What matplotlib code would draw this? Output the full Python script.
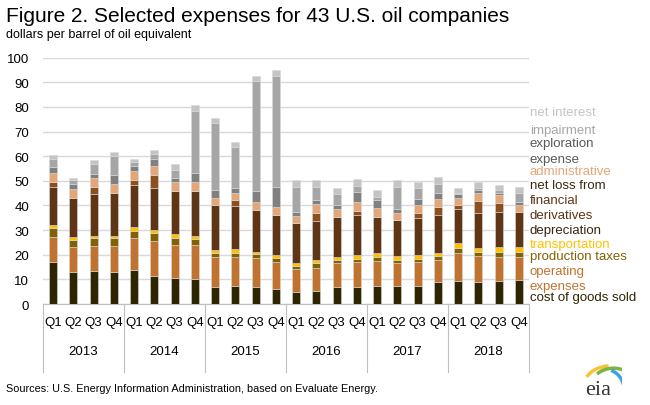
import numpy as np
import matplotlib.pyplot as plt
from matplotlib.patches import Arc

plt.rcParams['font.family'] = ['Liberation Sans', 'DejaVu Sans']

years = ['2013', '2014', '2015', '2016', '2017', '2018']
quarters = ['Q1', 'Q2', 'Q3', 'Q4']

# values in dollars per barrel of oil equivalent, one per quarter 2013Q1..2018Q4
cost_of_goods = [16.9, 12.8, 13.2, 12.8, 13.8, 11.2, 10.5, 10.1, 6.7, 7.2, 6.7, 6.1,
                 5.0, 5.4, 6.7, 6.7, 7.2, 7.2, 7.4, 8.8, 9.4, 9.0, 9.4, 9.9]
operating = [10.4, 10.4, 10.4, 10.8, 12.9, 14.2, 13.5, 13.9, 12.5, 12.0, 11.9, 10.8,
             9.2, 9.4, 9.9, 10.2, 10.1, 9.3, 9.5, 9.0, 11.1, 10.6, 9.8, 9.3]
production_taxes = [3.7, 2.7, 3.1, 3.1, 3.0, 3.6, 2.7, 2.3, 1.7, 1.7, 1.6, 1.7,
                    1.3, 1.8, 1.2, 1.3, 1.9, 1.3, 1.3, 1.8, 2.2, 1.7, 2.0, 2.0]
transportation = [1.0, 1.4, 1.0, 1.0, 1.7, 1.0, 1.6, 1.4, 1.1, 1.4, 1.0, 1.2,
                  1.1, 1.2, 1.1, 1.6, 1.4, 1.8, 1.6, 1.3, 1.9, 1.6, 2.0, 2.0]
depreciation = [15.6, 15.9, 16.8, 17.2, 16.8, 17.2, 17.6, 18.2, 18.1, 17.5, 16.9, 16.5,
                16.1, 15.7, 16.5, 16.2, 14.8, 14.4, 15.0, 15.1, 14.1, 13.9, 14.2, 14.3]
derivatives = [1.9, 0.0, 3.1, 0.0, 2.1, 5.0, 0.0, 0.0, 0.0, 2.4, 0.0, 0.0,
               0.0, 3.6, 0.0, 1.8, 0.0, 0.0, 2.3, 3.4, 1.4, 5.0, 3.5, 0.0]
administrative = [3.8, 3.4, 3.7, 3.7, 3.7, 3.7, 3.6, 3.8, 3.1, 3.0, 3.1, 3.2,
                  3.1, 3.4, 3.1, 3.6, 3.5, 3.1, 3.0, 3.1, 3.1, 3.1, 3.2, 2.7]
exploration = [2.3, 2.3, 1.3, 3.6, 2.0, 2.8, 1.8, 3.3, 3.1, 2.0, 4.7, 8.1,
               1.7, 1.7, 1.7, 4.1, 3.3, 1.4, 2.4, 2.4, 1.3, 1.4, 1.1, 1.2]
impairment = [3.1, 1.3, 4.1, 7.9, 1.6, 2.0, 3.1, 25.5, 27.0, 16.5, 44.5, 45.1,
              10.1, 5.4, 4.3, 2.4, 1.4, 9.0, 4.5, 4.0, 0.7, 0.9, 1.2, 3.8]
net_interest = [1.6, 0.8, 1.7, 1.6, 1.1, 1.6, 2.3, 2.1, 2.0, 2.0, 2.3, 2.4,
                2.7, 2.7, 2.7, 2.7, 2.6, 2.8, 2.5, 2.8, 2.0, 2.3, 1.8, 2.4]

series = [cost_of_goods, operating, production_taxes, transportation, depreciation,
          derivatives, administrative, exploration, impairment, net_interest]
colors = ['#2e2503', '#c0732e', '#806204', '#ffc000', '#5e3515',
          '#8c4f1f', '#e4a676', '#808080', '#a6a6a6', '#c4c4c4']

fig = plt.figure(figsize=(6.5, 4.06), dpi=100)
ax = fig.add_axes([43/650, 1-305/406, 486/650, 246.4/406])

x = np.arange(len(cost_of_goods))
bottom = np.zeros(len(x))
for vals, c in zip(series, colors):
    v = np.array(vals)
    ax.bar(x, v, 0.4, bottom=bottom, color=c, edgecolor='#d8d8d8', linewidth=0.4, zorder=3)
    bottom += v

ax.set_xlim(-0.5, len(x)-0.5)
ax.set_ylim(0, 100)
ax.set_yticks(range(0, 101, 10))
ax.tick_params(axis='y', length=0, labelsize=9.5, pad=10)
ax.tick_params(axis='x', length=0)
ax.set_xticks([])
ax.grid(axis='y', color='#d9d9d9', linewidth=1)
for s in ['top', 'right', 'left']:
    ax.spines[s].set_visible(False)
ax.spines['bottom'].set_color('#bfbfbf')

# quarter and year labels below the axis
tr = ax.get_xaxis_transform()
for i in x:
    ax.text(i, -0.075, quarters[i % 4], transform=tr, ha='center', va='center', fontsize=9.5)
for k, yr in enumerate(years):
    ax.text(k*4+1.5, -0.19, yr, transform=tr, ha='center', va='center', fontsize=9.5)
for k in range(len(years)+1):
    ax.plot([k*4-0.5, k*4-0.5], [0, -0.275], transform=tr, color='#bfbfbf', lw=0.8, clip_on=False)

# legend as coloured text on the right
labels = [('net interest', 113, colors[9]), ('impairment', 131, '#a6a6a6'),
          ('exploration', 144, '#595959'), ('expense', 160, '#595959'),
          ('administrative', 172, '#e4a676'), ('net loss from', 186, '#3a2a10'),
          ('financial', 201, '#5e3515'), ('derivatives', 216, '#5e3515'),
          ('depreciation', 231, '#3a2510'), ('transportation', 245, '#ffc000'),
          ('production taxes', 257, '#806204'), ('operating', 272, '#c0732e'),
          ('expenses', 287, '#c0732e'), ('cost of goods sold', 298, '#2e2503')]
for t, py, c in labels:
    fig.text(530/650, 1-py/406, t, color=c, fontsize=9.5, ha='left', va='center')

fig.text(6/650, 1-17/406, 'Figure 2. Selected expenses for 43 U.S. oil companies', fontsize=15, va='center')
fig.text(6/650, 1-35/406, 'dollars per barrel of oil equivalent', fontsize=9, va='center')
fig.text(6/650, 1-389/406, 'Sources: U.S. Energy Information Administration, based on Evaluate Energy.',
         fontsize=7.8, va='center')

# eia logo
fig.text(598/650, 1-391/406, 'eia', family='Liberation Serif', fontsize=16, color='#333333',
         ha='center', va='center')
lax = fig.add_axes([580/650, 1-386/406, 42/650, 24/406])
lax.set_xlim(0, 1)
lax.set_ylim(0, 1)
lax.axis('off')
lax.add_patch(Arc((0.75, 0.0), 1.3, 1.6, theta1=95, theta2=150, color='#f6c33b', lw=2.5))
lax.add_patch(Arc((0.8, -0.1), 1.1, 1.6, theta1=60, theta2=125, color='#7cb342', lw=2.5))
lax.add_patch(Arc((0.6, -0.2), 0.9, 1.7, theta1=0, theta2=80, color='#3aa6dd', lw=2.5))

fig.savefig('out.png', dpi=100)
